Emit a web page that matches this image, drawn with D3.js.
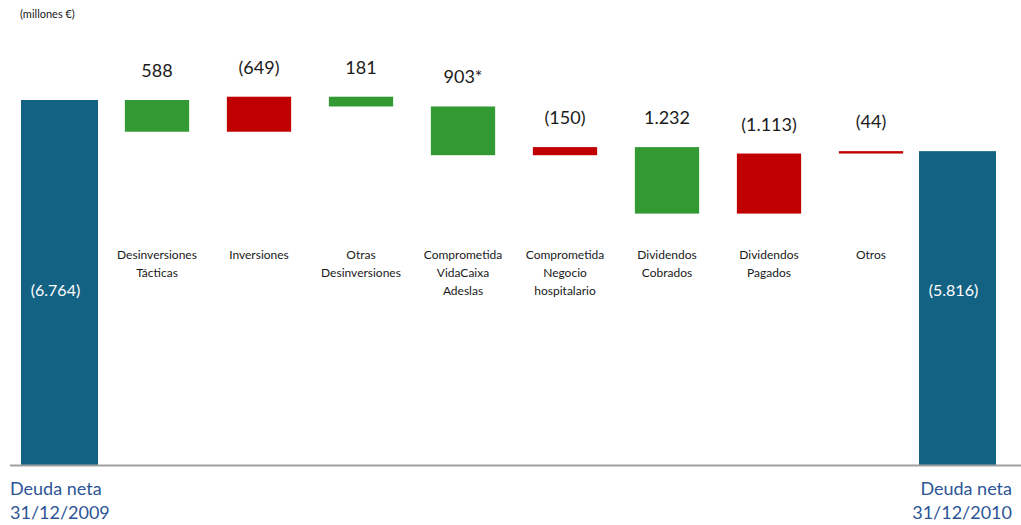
<!DOCTYPE html>
<html>
<head>
<meta charset="utf-8">
<script src="https://cdn.jsdelivr.net/npm/d3@7"></script>
<style>
  html, body { margin: 0; padding: 0; background: #fff; }
  svg { display: block; }
  text { font-family: Lato, "Open Sans", sans-serif; }
</style>
</head>
<body>
<svg id="chart" width="1021" height="525"></svg>
<script>
// Net debt bridge 2009 -> 2010 (millones €)
const totalCategories = ["inicio", "fin"];
const stepCategories = ["Desinversiones Tácticas", "Inversiones", "Otras Desinversiones",
  "Comprometida VidaCaixa Adeslas", "Comprometida Negocio hospitalario",
  "Dividendos Cobrados", "Dividendos Pagados", "Otros"];
const stepLines = [["Desinversiones", "Tácticas"], ["Inversiones"], ["Otras", "Desinversiones"],
  ["Comprometida", "VidaCaixa", "Adeslas"], ["Comprometida", "Negocio", "hospitalario"],
  ["Dividendos", "Cobrados"], ["Dividendos", "Pagados"], ["Otros"]];
// cash flows: positive reduces net debt, negative increases it
const flows = [588, -649, 181, 903, -150, 1232, -1113, -44];
const flowNotes = ["", "", "", "*", "", "", "", ""];
const netDebtStart = 6764;   // 31/12/2009
const netDebtEnd = 5816;     // 31/12/2010
const endLabels = [["Deuda neta", "31/12/2009"], ["Deuda neta", "31/12/2010"]];

const colors = { total: "#136283", down: "#339933", up: "#c00000", axis: "#a0a0a0", footer: "#2d5596" };

const svg = d3.select("#chart");
const baseY = 465;

// step bars sit on a band scale; the two totals on a point scale at the edges
const x = d3.scaleBand().domain(stepCategories).range([106, 922]).paddingInner(0.37).paddingOuter(0.185);
const xTotal = d3.scalePoint().domain(totalCategories).range([59.5, 957.5]);
const y = d3.scaleLinear().domain([0, netDebtStart]).range([baseY, 100]);

const loc = d3.formatLocale({ decimal: ",", thousands: ".", grouping: [3], currency: ["", "€"] });
const fmt = loc.format(",d");
const signed = v => v < 0 ? "(" + fmt(-v) + ")" : fmt(v);

// build floating steps
let level = netDebtStart;
const steps = flows.map((f, i) => {
  const from = level;
  const to = level - f;
  level = to;
  return { cat: stepCategories[i], flow: f, from, to, note: flowNotes[i], lines: stepLines[i] };
});

// total bars
const totals = [
  { cat: totalCategories[0], value: netDebtStart },
  { cat: totalCategories[1], value: netDebtEnd }
];
const totalW = 77;
svg.selectAll("rect.total").data(totals).join("rect")
  .attr("class", "total")
  .attr("x", d => xTotal(d.cat) - totalW / 2)
  .attr("width", totalW)
  .attr("y", d => y(d.value))
  .attr("height", d => y(0) - y(d.value))
  .attr("fill", colors.total);

svg.selectAll("text.totalLabel").data(totals).join("text")
  .attr("class", "totalLabel")
  .attr("x", d => xTotal(d.cat) - 4)
  .attr("y", 296)
  .attr("text-anchor", "middle")
  .attr("fill", "#fff")
  .attr("font-size", 16)
  .text(d => signed(-d.value));

// step bars
svg.selectAll("rect.step").data(steps).join("rect")
  .attr("class", "step")
  .attr("x", d => x(d.cat))
  .attr("width", x.bandwidth())
  .attr("y", d => y(Math.max(d.from, d.to)))
  .attr("height", d => Math.abs(y(d.from) - y(d.to)))
  .attr("fill", d => d.flow > 0 ? colors.down : colors.up);

svg.selectAll("text.stepLabel").data(steps).join("text")
  .attr("class", "stepLabel")
  .attr("x", d => x(d.cat) + x.bandwidth() / 2)
  .attr("y", d => y(Math.max(d.from, d.to)) - 23)
  .attr("text-anchor", "middle")
  .attr("fill", "#1a1a1a")
  .attr("font-size", 18)
  .text(d => signed(d.flow) + d.note);

// category names below the bars
steps.forEach(d => {
  const t = svg.append("text")
    .attr("text-anchor", "middle")
    .attr("font-size", 12)
    .attr("fill", "#1a1a1a");
  d.lines.forEach((line, j) => {
    t.append("tspan")
      .attr("x", x(d.cat) + x.bandwidth() / 2)
      .attr("y", 259 + j * 18)
      .text(line);
  });
});

// baseline
svg.append("line")
  .attr("x1", 10).attr("x2", 1021)
  .attr("y1", baseY + 0.5).attr("y2", baseY + 0.5)
  .attr("stroke", colors.axis).attr("stroke-width", 2);

// period labels
const footer = [
  { lines: endLabels[0], x: 10, anchor: "start" },
  { lines: endLabels[1], x: 1012, anchor: "end" }
];
footer.forEach(f => {
  f.lines.forEach((line, j) => {
    svg.append("text")
      .attr("x", f.x)
      .attr("y", 495 + j * 24)
      .attr("text-anchor", f.anchor)
      .attr("font-size", 18)
      .attr("fill", colors.footer)
      .text(line);
  });
});

// unit note
svg.append("text")
  .attr("x", 20).attr("y", 18)
  .attr("font-size", 11)
  .attr("fill", "#1a1a1a")
  .text("(millones €)");
</script>
</body>
</html>
